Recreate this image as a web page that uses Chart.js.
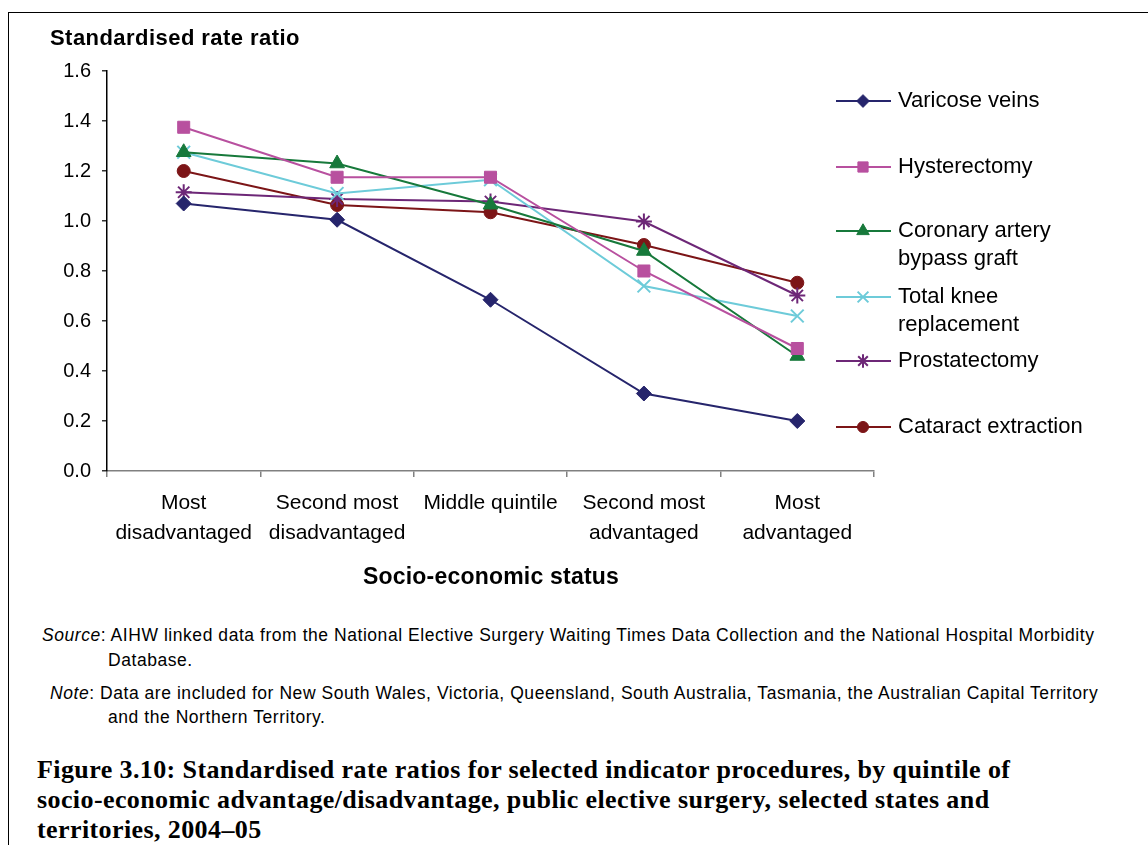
<!DOCTYPE html>
<html>
<head>
<meta charset="utf-8">
<script src="https://cdn.jsdelivr.net/npm/chart.js@4.4.1/dist/chart.umd.min.js"></script>
<style>
  body { margin: 0; background: #fff; width: 1148px; height: 845px; overflow: hidden; position: relative; font-family: "Liberation Sans", Arial, sans-serif; }
  #frame { position: absolute; left: 8px; top: 12px; width: 1160px; height: 900px; border-left: 1.5px solid #000; border-top: 1.5px solid #000; }
  #wrap { position: absolute; left: 0; top: 0; width: 1148px; height: 600px; }
  .txt { position: absolute; white-space: nowrap; color: #000; }
  #ytitle { left: 50px; top: 25px; font-size: 22px; font-weight: bold; letter-spacing: 0.45px; }
  #xtitle { left: 0; width: 982px; text-align: center; top: 563px; font-size: 23px; font-weight: bold; letter-spacing: 0.2px; }
  .note { font-size: 17.5px; letter-spacing: 0.55px; }
  .cap { font-family: "Liberation Serif", "Times New Roman", serif; font-weight: bold; font-size: 26px; letter-spacing: 0.4px; left: 37px; }
</style>
</head>
<body>
<div id="frame"></div>
<div id="wrap"><canvas id="srrChart" width="1148" height="600"></canvas></div>
<div class="txt" id="ytitle">Standardised rate ratio</div>
<div class="txt" id="xtitle">Socio-economic status</div>
<div class="txt note" style="left:42px;top:625px"><i>Source</i>: AIHW linked data from the National Elective Surgery Waiting Times Data Collection and the National Hospital Morbidity</div>
<div class="txt note" style="left:108px;top:650px">Database.</div>
<div class="txt note" style="left:50px;top:683px"><i>Note</i>: Data are included for New South Wales, Victoria, Queensland, South Australia, Tasmania, the Australian Capital Territory</div>
<div class="txt note" style="left:108px;top:707px">and the Northern Territory.</div>
<div class="txt cap" style="top:755px">Figure 3.10: Standardised rate ratios for selected indicator procedures, by quintile of</div>
<div class="txt cap" style="top:785px">socio-economic advantage/disadvantage, public elective surgery, selected states and</div>
<div class="txt cap" style="top:815px">territories, 2004–05</div>
<script>
// categories and series
const quintiles=[["Most","disadvantaged"],["Second most","disadvantaged"],"Middle quintile",["Second most","advantaged"],["Most","advantaged"]];
const varicoseVeins=[1.07,1.005,0.685,0.31,0.2];
const hysterectomy=[1.375,1.175,1.175,0.8,0.49];
const coronaryBypass=[1.275,1.23,1.065,0.88,0.46];
const kneeReplacement=[1.275,1.11,1.165,0.74,0.62];
const prostatectomy=[1.115,1.088,1.078,0.998,0.702];
const cataract=[1.2,1.064,1.035,0.904,0.753];
const yTicks=[0,0.2,0.4,0.6,0.8,1.0,1.2,1.4,1.6];

const legendNames=[["Varicose veins"],["Hysterectomy"],["Coronary artery","bypass graft"],["Total knee","replacement"],["Prostatectomy"],["Cataract extraction"]];

function series(label,data,color,style,radius){
  return {
    label:label, data:data,
    borderColor:color, backgroundColor:color,
    borderWidth:2, pointStyle:style, pointRadius:radius, pointHoverRadius:radius,
    pointBorderWidth: (style==='crossRot'||style==='star') ? 2 : 1,
    tension:0, fill:false
  };
}

// legend drawn on the right, rows spaced like the original
const sideLegend={
  id:'sideLegend',
  afterDraw(chart){
    const ctx=chart.ctx;
    const rows=[101,167,231,297,361,427];
    ctx.save();
    chart.data.datasets.forEach((ds,i)=>{
      const y=rows[i];
      ctx.strokeStyle=ds.borderColor;
      ctx.lineWidth=2;
      ctx.beginPath();
      ctx.moveTo(836,y);
      ctx.lineTo(891,y);
      ctx.stroke();
      ctx.fillStyle=ds.backgroundColor;
      ctx.lineWidth=ds.pointBorderWidth;
      Chart.helpers.drawPoint(ctx,{pointStyle:ds.pointStyle,radius:ds.pointRadius*0.85,rotation:0,borderWidth:ds.pointBorderWidth},863,y);
      ctx.fillStyle='#000';
      ctx.font='22px "Liberation Sans", Arial, sans-serif';
      ctx.textBaseline='middle';
      ctx.textAlign='left';
      legendNames[i].forEach((t,j)=>ctx.fillText(t,898,y+j*28));
    });
    ctx.restore();
  }
};

const ctx=document.getElementById('srrChart').getContext('2d');
new Chart(ctx,{
  type:'line',
  data:{
    labels:quintiles,
    datasets:[
      series('Varicose veins',varicoseVeins,'#26256c','rectRot',7.5),
      series('Hysterectomy',hysterectomy,'#b8509f','rect',8.5),
      series('Coronary artery bypass graft',coronaryBypass,'#17793b','triangle',8.5),
      series('Total knee replacement',kneeReplacement,'#6dcbd9','crossRot',9),
      series('Prostatectomy',prostatectomy,'#6d2777','star',8),
      series('Cataract extraction',cataract,'#7c1517','circle',6.5)
    ]
  },
  options:{
    responsive:false,
    animation:false,
    devicePixelRatio:1,
    layout:{padding:{left:0,top:71,right:274,bottom:0}},
    plugins:{legend:{display:false},tooltip:{enabled:false}},
    scales:{
      x:{
        offset:true,
        grid:{offset:true,drawOnChartArea:false,tickLength:6,color:'#808080',lineWidth:1.5},
        border:{color:'#808080',width:1.5},
        ticks:{color:'#000',font:{family:'"Liberation Sans", Arial, sans-serif',size:21,lineHeight:1.43},padding:11,maxRotation:0,autoSkip:false},
        afterFit(s){ s.height=129; }
      },
      y:{
        min:0,max:1.6,
        afterBuildTicks(s){ s.ticks=yTicks.map(v=>({value:v})); },
        grid:{drawOnChartArea:false,tickLength:5,color:'#333',lineWidth:1.5},
        border:{color:'#000',width:1.5},
        ticks:{color:'#000',font:{family:'"Liberation Sans", Arial, sans-serif',size:20},padding:11,callback:v=>v.toFixed(1)},
        afterFit(s){ s.width=107; }
      }
    }
  },
  plugins:[sideLegend]
});
</script>
</body>
</html>
